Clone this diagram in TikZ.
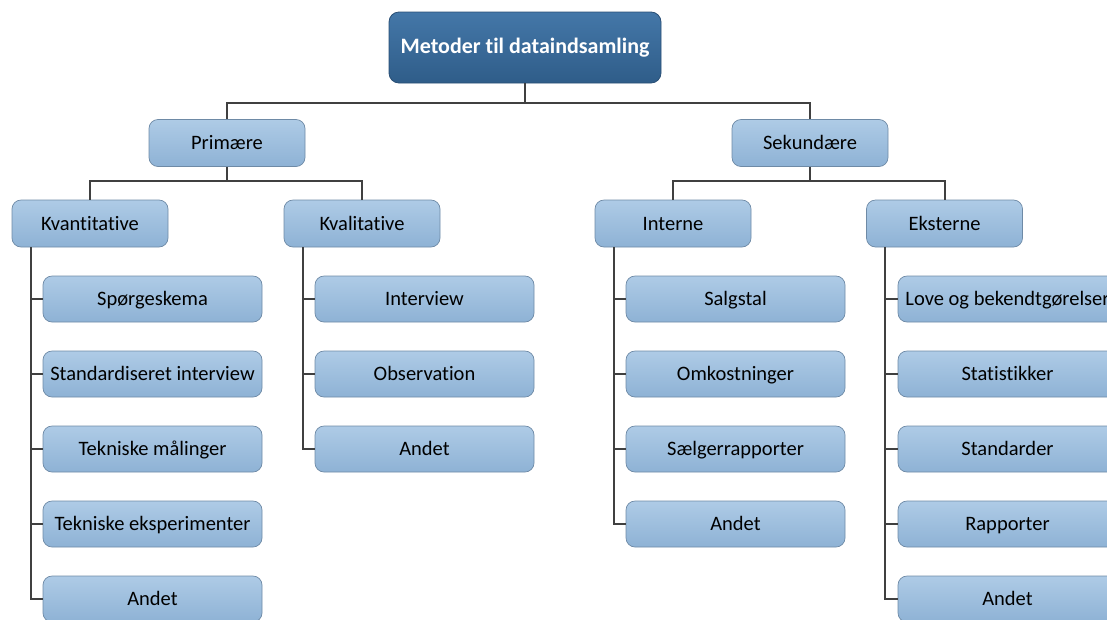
\documentclass[tikz,border=0pt]{standalone}
\usepackage{fontspec}
\setmainfont{Carlito}[Ligatures=NoCommon]
\begin{document}
\begin{tikzpicture}[x=1pt,y=-1pt,
  every node/.style={font=\fontsize{20.5}{24}\selectfont},
  rootbox/.style={rounded corners=10pt, draw=rootedge, line width=0.8pt,
    top color=roottop, bottom color=rootbot, text=white,
    font=\bfseries\fontsize{22}{26}\selectfont,
    minimum width=272pt, minimum height=71pt, inner sep=0pt},
  catbox/.style={rounded corners=9pt, draw=boxedge, line width=0.7pt,
    top color=boxtop, bottom color=boxbot, text=black,
    text height=16pt, text depth=3pt,
    minimum width=156pt, minimum height=47pt, inner sep=0pt},
  leafbox/.style={catbox, minimum width=219pt, minimum height=46pt},
  link/.style={draw=linkgrey, line width=2pt}
]
\definecolor{roottop}{HTML}{4477A8}
\definecolor{rootbot}{HTML}{2F5D89}
\definecolor{rootedge}{HTML}{2A4F75}
\definecolor{boxtop}{HTML}{AECBE6}
\definecolor{boxbot}{HTML}{8EB2D5}
\definecolor{boxedge}{HTML}{6E8AA6}
\definecolor{linkgrey}{HTML}{404040}

\useasboundingbox (0,0) rectangle (1107,619);
\clip (0,0) rectangle (1107,619);

% root and first level
\node[rootbox] (root) at (525,47.5) {Metoder til dataindsamling};
\node[catbox] (prim) at (227,143) {Primære};
\node[catbox] (sek) at (810,143) {Sekundære};

% second level
\node[catbox] (kvant) at (90,223.5) {Kvantitative};
\node[catbox] (kval) at (362,223.5) {Kvalitative};
\node[catbox] (int) at (673,223.5) {Interne};
\node[catbox] (eks) at (944.5,223.5) {Eksterne};

% leaves under Kvantitative
\node[leafbox] (q1) at (152.5,299) {Spørgeskema};
\node[leafbox] (q2) at (152.5,374) {Standardiseret interview};
\node[leafbox] (q3) at (152.5,449) {Tekniske målinger};
\node[leafbox] (q4) at (152.5,524) {Tekniske eksperimenter};
\node[leafbox] (q5) at (152.5,599) {Andet};

% leaves under Kvalitative
\node[leafbox] (l1) at (424.5,299) {Interview};
\node[leafbox] (l2) at (424.5,374) {Observation};
\node[leafbox] (l3) at (424.5,449) {Andet};

% leaves under Interne
\node[leafbox] (i1) at (735.5,299) {Salgstal};
\node[leafbox] (i2) at (735.5,374) {Omkostninger};
\node[leafbox] (i3) at (735.5,449) {Sælgerrapporter};
\node[leafbox] (i4) at (735.5,524) {Andet};

% leaves under Eksterne
\node[leafbox] (e1) at (1007.5,299) {Love og bekendtgørelser};
\node[leafbox] (e2) at (1007.5,374) {Statistikker};
\node[leafbox] (e3) at (1007.5,449) {Standarder};
\node[leafbox] (e4) at (1007.5,524) {Rapporter};
\node[leafbox] (e5) at (1007.5,599) {Andet};

% bus levels
\coordinate (bus0) at (0,103);
\coordinate (bus1) at (0,181);

\draw[link] (root.south) -- (root.south |- bus0) -| (prim.north);
\draw[link] (root.south |- bus0) -| (sek.north);
\draw[link] (prim.south) -- (prim.south |- bus1) -| (kvant.north);
\draw[link] (prim.south |- bus1) -| (kval.north);
\draw[link] (sek.south) -- (sek.south |- bus1) -| (int.north);
\draw[link] (sek.south |- bus1) -| (eks.north);

% vertical spines with branches to the leaves
\foreach \p/\leaves in {kvant/{q1,q2,q3,q4,q5}, kval/{l1,l2,l3},
                        int/{i1,i2,i3,i4}, eks/{e1,e2,e3,e4,e5}}{
  \foreach \c in \leaves {
    \draw[link] ([xshift=19pt]\p.south west) |- (\c.west);
  }
}
\end{tikzpicture}
\end{document}
